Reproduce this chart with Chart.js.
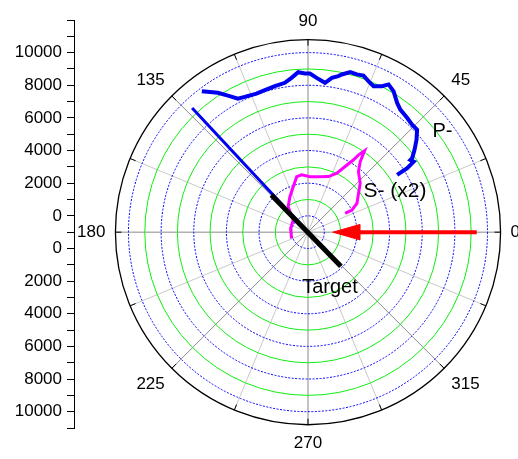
<!DOCTYPE html>
<html>
<head>
<meta charset="utf-8">
<script src="https://cdn.jsdelivr.net/npm/chart.js@4.4.1/dist/chart.umd.min.js"></script>
<style>
  html, body { margin: 0; padding: 0; background: #fff; }
  #chart { display: block; }
</style>
</head>
<body>
<canvas id="chart" width="518" height="459"></canvas>
<script>
// radial axis: the centre is -1000, value 0 sits on the first ring
const radialMin = -1000;
const radialOuter = 10800;
const ringValues = [0, 1000, 2000, 3000, 4000, 5000, 6000, 7000, 8000, 9000, 10000];
const angleLabels = [0, 45, 90, 135, 180, 225, 270, 315];

// P- trace (degrees, radius)
const anglesP = [127.0, 122.9, 120.4, 117.7, 115.1, 110.4, 106.9, 102.8, 98.8, 96.1, 93.5, 91.1, 89.3, 86.8, 83.5, 81.2, 79.0, 77.9, 75.2, 72.8, 70.5, 68.1, 65.8, 63.1, 61.4, 58.7, 55.4, 53.0, 49.0, 45.9, 43.2, 40.4, 37.7, 35.4, 35.2, 33.7, 32.8, 32.7];
const radiiP = [9810, 9170, 8700, 8240, 8150, 8060, 8090, 8170, 8260, 8510, 8820, 8720, 8720, 8470, 8210, 8570, 8740, 8880, 9140, 9120, 9180, 8960, 8800, 9030, 9310, 9100, 8620, 8400, 8270, 8170, 8170, 7730, 7250, 6830, 6680, 6790, 6230, 5490];

// S- (x2) trace
const anglesS = [201.1, 167.9, 140.8, 127.9, 117.0, 108.0, 101.5, 96.3, 87.9, 77.8, 69.8, 63.9, 60.5, 57.8, 56.8, 55.2, 53.5, 50.2, 43.1, 37.6, 30.5, 26.7, 26.8];
const radiiS = [80, 90, 170, 980, 1440, 1930, 2470, 2530, 2400, 2480, 2630, 3020, 3620, 4240, 4660, 5070, 4380, 3830, 3380, 2910, 2480, 2010, 1550];

// blue radial line
const anglesBlueLine = [133, 133];
const radiiBlueLine = [9410, -1000];

// Target
const anglesTarget = [134.5, 314];
const radiiTarget = [2200, 1900];

// red arrow (from, to)
const anglesArrow = [0, 0];
const radiiArrow = [9340, 520];

// text labels
const notes = [
    { text: "P-", angle: 36.8, radius: 9290, size: 20 },
    { text: "S- (x2)", angle: 25.2, radius: 4890, size: 21 },
    { text: "Target", angle: 291.8, radius: 2630, size: 20 }
];

const fontFamily = "'Liberation Sans', Arial, sans-serif";

function toXY(angles, radii) {
    return angles.map((a, i) => {
        const rho = radii[i] - radialMin;
        const t = a * Math.PI / 180;
        return { x: rho * Math.cos(t), y: rho * Math.sin(t) };
    });
}

function arrowHead(angles, radii) {
    const pts = toXY(angles, radii);
    const tip = pts[1];
    const dx = pts[0].x - tip.x;
    const dy = pts[0].y - tip.y;
    const len = Math.sqrt(dx * dx + dy * dy);
    const ux = dx / len, uy = dy / len;
    const headLen = 1650, headHalf = 470;
    const bx = tip.x + ux * headLen, by = tip.y + uy * headLen;
    return [
        tip,
        { x: bx - uy * headHalf, y: by + ux * headHalf },
        { x: bx + uy * headHalf, y: by - ux * headHalf },
        tip
    ];
}

const polarGrid = {
    id: "polarGrid",
    beforeDatasetsDraw(chart) {
        const { ctx, scales: { x, y } } = chart;
        const cx = x.getPixelForValue(0);
        const cy = y.getPixelForValue(0);
        const rPx = v => x.getPixelForValue(v - radialMin) - cx;
        const outer = rPx(radialOuter);
        ctx.save();
        // spokes every 22.5 degrees
        for (let i = 0; i < 16; i++) {
            const t = i * 22.5 * Math.PI / 180;
            ctx.beginPath();
            ctx.strokeStyle = i % 2 === 0 ? "#8a8a8a" : "#c8c8c8";
            ctx.lineWidth = 1;
            ctx.moveTo(cx, cy);
            ctx.lineTo(cx + outer * Math.cos(t), cy - outer * Math.sin(t));
            ctx.stroke();
        }
        // rings
        ringValues.forEach(v => {
            const r = rPx(v);
            ctx.beginPath();
            if ((v / 1000) % 2 === 0) {
                ctx.strokeStyle = "#0000ff";
                ctx.setLineDash([2, 1.5]);
            } else {
                ctx.strokeStyle = "#11ee11";
                ctx.setLineDash([]);
            }
            ctx.lineWidth = 1;
            ctx.arc(cx, cy, r, 0, Math.PI * 2);
            ctx.stroke();
        });
        ctx.setLineDash([]);
        // outer circle
        ctx.beginPath();
        ctx.strokeStyle = "#000";
        ctx.lineWidth = 1.3;
        ctx.arc(cx, cy, outer, 0, Math.PI * 2);
        ctx.stroke();
        for (let i = 0; i < 16; i++) {
            const t = i * 22.5 * Math.PI / 180;
            ctx.beginPath();
            ctx.lineWidth = 1;
            ctx.moveTo(cx + (outer - 6) * Math.cos(t), cy - (outer - 6) * Math.sin(t));
            ctx.lineTo(cx + outer * Math.cos(t), cy - outer * Math.sin(t));
            ctx.stroke();
        }
        // angle labels
        ctx.fillStyle = "#000";
        ctx.font = "17px " + fontFamily;
        angleLabels.forEach(a => {
            const t = a * Math.PI / 180;
            const c = Math.cos(t), s = Math.sin(t);
            ctx.textAlign = c > 0.5 ? "left" : (c < -0.5 ? "right" : "center");
            ctx.textBaseline = s > 0.5 ? "bottom" : (s < -0.5 ? "top" : "middle");
            ctx.fillText(String(a), cx + (outer + 10) * c, cy - (outer + 10) * s);
        });
        ctx.restore();
    },
    afterDatasetsDraw(chart) {
        const { ctx, scales: { x, y } } = chart;
        ctx.save();
        ctx.fillStyle = "#000";
        ctx.textAlign = "center";
        ctx.textBaseline = "middle";
        notes.forEach(n => {
            const p = toXY([n.angle], [n.radius])[0];
            ctx.font = n.size + "px " + fontFamily;
            ctx.fillText(n.text, x.getPixelForValue(p.x), y.getPixelForValue(p.y));
        });
        ctx.restore();
    }
};

const line = (data, color, width) => ({
    data: data,
    showLine: true,
    borderColor: color,
    backgroundColor: color,
    borderWidth: width,
    pointRadius: 0,
    tension: 0,
    fill: false
});

const chart = new Chart(document.getElementById("chart"), {
    type: "scatter",
    data: {
        datasets: [
            line(toXY(anglesTarget, radiiTarget), "#000000", 5),
            Object.assign(line(arrowHead(anglesArrow, radiiArrow), "#ff0000", 1), { fill: "shape" }),
            line(toXY(anglesArrow, [radiiArrow[0], radiiArrow[1] + 1000]), "#ff0000", 4),
            line(toXY(anglesS, radiiS), "#ff00ff", 3),
            line(toXY(anglesP, radiiP), "#0000f0", 4),
            line(toXY(anglesBlueLine, radiiBlueLine), "#0000f0", 3)
        ]
    },
    options: {
        responsive: false,
        animation: false,
        devicePixelRatio: 1,
        layout: {
            padding: { left: 0, right: 10, top: 20, bottom: 31 }
        },
        plugins: {
            legend: { display: false },
            tooltip: { enabled: false }
        },
        scales: {
            x: {
                type: "linear",
                display: false,
                min: -14338,
                max: 12255
            },
            y: {
                type: "linear",
                position: "left",
                min: -12000,
                max: 13000,
                afterFit: scale => { scale.width = 74; },
                grid: {
                    drawOnChartArea: false,
                    drawTicks: true,
                    tickLength: 7,
                    color: "#000"
                },
                border: { display: true, color: "#000", width: 1 },
                ticks: {
                    stepSize: 1000,
                    autoSkip: false,
                    padding: 5,
                    color: "#000",
                    font: { family: fontFamily, size: 17 },
                    callback: v => (Math.abs(v) % 2000 === 1000 && Math.abs(v) <= 11000) ? String(Math.abs(v) - 1000) : ""
                }
            }
        }
    },
    plugins: [polarGrid]
});
</script>
</body>
</html>
